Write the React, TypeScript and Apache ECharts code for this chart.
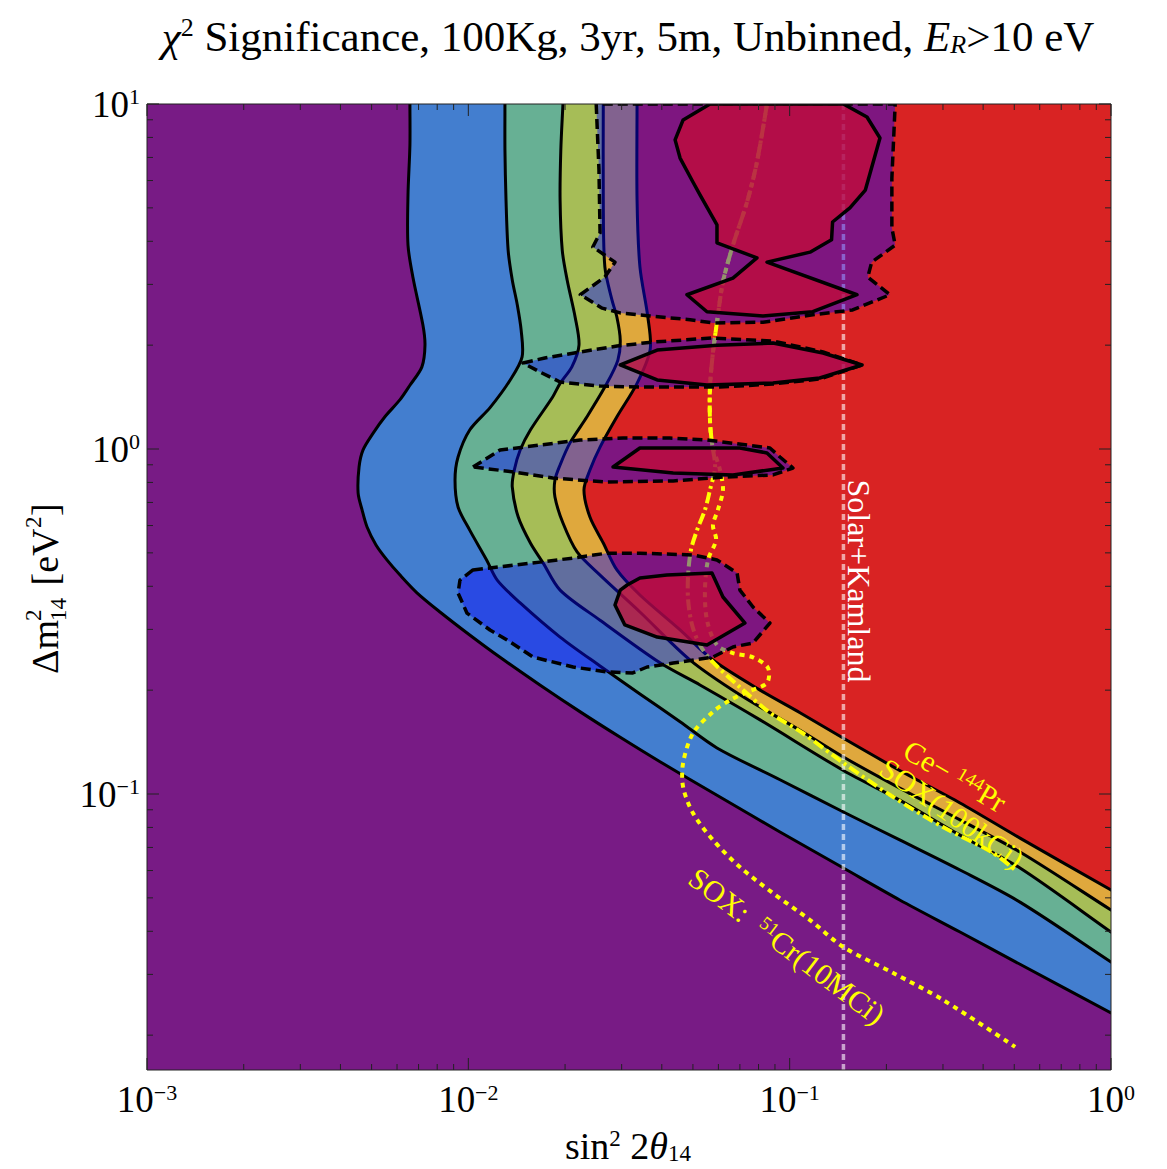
import React, { useEffect, useRef } from 'react';
import * as echarts from 'echarts';

const SERIF = 'Liberation Serif, Times New Roman, serif';

// axis ranges (sin^2 2θ14, Δm^2_14 [eV^2])
const X_RANGE = [0.001, 1];
const Y_RANGE = [Math.pow(10, -1.8), 10];
const xTickExponents = [-3, -2, -1, 0];
const yTickExponents = [-1, 0, 1];
const minorMultipliers = [2, 3, 4, 5, 6, 7, 8, 9];

const backgroundColor = '#781b85';
const bandColors = ['#437ecf', '#67b094', '#a6bd57', '#dfa83d', '#d92323'];

// significance contour boundaries [sin^2 2θ, Δm^2]
const contour1 = [[0.00658,10],[0.00658,7.61],[0.00649,5.45],[0.00649,3.90],[0.00673,3.13],[0.00722,2.29],[0.00733,2.00],[0.00717,1.73],[0.00658,1.53],[0.00613,1.39],[0.0055,1.24],[0.00505,1.11],[0.0047,0.993],[0.00457,0.887],[0.00454,0.745],[0.00467,0.666],[0.00484,0.594],[0.00516,0.527],[0.00558,0.477],[0.00613,0.431],[0.00692,0.383],[0.00816,0.337],[0.0101,0.289],[0.01255,0.249],[0.0167,0.207],[0.0223,0.173],[0.0297,0.146],[0.0395,0.124],[0.0607,0.098],[0.0933,0.0776],[0.147,0.061],[0.22,0.0493],[0.339,0.0398],[0.521,0.0321],[1,0.0232]];
const contour2 = [[0.013,10],[0.013,7.36],[0.0131,5.27],[0.0133,3.77],[0.0137,3.09],[0.0142,2.62],[0.0146,2.21],[0.0147,1.85],[0.0135,1.585],[0.0117,1.32],[0.0101,1.135],[0.00929,0.948],[0.00909,0.813],[0.00929,0.679],[0.0101,0.582],[0.0114,0.477],[0.0123,0.417],[0.0145,0.358],[0.0193,0.285],[0.0257,0.235],[0.0342,0.195],[0.0456,0.162],[0.0594,0.136],[0.0933,0.11],[0.147,0.0887],[0.22,0.0736],[0.339,0.0602],[0.521,0.0486],[1,0.0326]];
const contour3 = [[0.0197,10],[0.0194,7.36],[0.0193,5.27],[0.0196,3.77],[0.0203,3.09],[0.0215,2.41],[0.0221,2.0],[0.021,1.73],[0.0193,1.55],[0.0183,1.415],[0.0156,1.135],[0.0145,0.993],[0.0139,0.869],[0.0137,0.776],[0.0143,0.635],[0.0156,0.534],[0.0171,0.467],[0.0193,0.39],[0.0257,0.319],[0.0395,0.24],[0.0526,0.207],[0.0809,0.164],[0.147,0.117],[0.22,0.096],[0.339,0.076],[0.521,0.061],[1,0.0398]];
const contour4 = [[0.0263,10],[0.0263,5.27],[0.0266,3.37],[0.028,2.70],[0.029,2.41],[0.0297,2.07],[0.0292,1.81],[0.027,1.55],[0.0234,1.24],[0.0207,1.04],[0.0193,0.899],[0.0186,0.813],[0.0186,0.726],[0.0197,0.61],[0.0218,0.503],[0.0257,0.431],[0.0342,0.337],[0.049,0.2445],[0.07,0.194],[0.1077,0.153],[0.147,0.128],[0.22,0.104],[0.339,0.0841],[0.521,0.0679],[1,0.0461]];
const contour5 = [[0.0335,10],[0.0335,5.27],[0.0342,3.37],[0.0362,2.41],[0.0368,1.94],[0.0335,1.55],[0.029,1.24],[0.0257,1.013],[0.0239,0.869],[0.0229,0.761],[0.0239,0.635],[0.0263,0.534],[0.029,0.446],[0.0342,0.3775],[0.0456,0.299],[0.0577,0.2445],[0.0809,0.2],[0.1077,0.172],[0.147,0.145],[0.22,0.117],[0.339,0.0942],[0.521,0.0745],[1,0.0527]];

// dashed (translucent) regions
const regionA = [[0.025,10],[0.0255,6.44],[0.0257,4.23],[0.0244,3.85],[0.0286,3.48],[0.0266,3.15],[0.0223,2.80],[0.0261,2.56],[0.0297,2.48],[0.0368,2.43],[0.049,2.37],[0.0577,2.32],[0.0826,2.33],[0.118,2.45],[0.157,2.53],[0.205,2.80],[0.175,3.15],[0.18,3.48],[0.213,3.90],[0.208,4.37],[0.208,6.10],[0.213,10]];
const regionB = [[0.0148,1.775],[0.0173,1.836],[0.0223,1.911],[0.029,1.988],[0.0376,2.042],[0.0577,2.098],[0.0887,2.056],[0.127,1.911],[0.168,1.752],[0.124,1.596],[0.0887,1.543],[0.0607,1.512],[0.0342,1.512],[0.0257,1.522],[0.0193,1.564],[0.0167,1.672]];
const regionC = [[0.01034,0.887],[0.01255,0.993],[0.0167,1.027],[0.0223,1.062],[0.0303,1.076],[0.0424,1.076],[0.0553,1.062],[0.0868,1.007],[0.0933,0.948],[0.1024,0.881],[0.0887,0.841],[0.062,0.829],[0.0434,0.808],[0.027,0.802],[0.0183,0.824],[0.0138,0.858]];
const regionD = [[0.01034,0.446],[0.00942,0.417],[0.00929,0.3825],[0.0099,0.3346],[0.01168,0.2988],[0.0132,0.2795],[0.0159,0.2494],[0.0212,0.2334],[0.027,0.2258],[0.0325,0.2243],[0.036,0.2334],[0.0434,0.2397],[0.0577,0.2494],[0.0666,0.2668],[0.0769,0.274],[0.0868,0.313],[0.0769,0.3483],[0.07,0.39],[0.0686,0.437],[0.0594,0.477],[0.05,0.493],[0.0342,0.499],[0.027,0.499],[0.0212,0.483],[0.0167,0.47],[0.01168,0.452]];

// solid (inner) islands
const islandA = [[0.0565,10],[0.0466,8.99],[0.044,7.87],[0.0456,6.97],[0.05,5.94],[0.0526,5.45],[0.0594,4.46],[0.0594,3.96],[0.0791,3.58],[0.0666,3.13],[0.0479,2.80],[0.0553,2.50],[0.0826,2.43],[0.118,2.50],[0.162,2.80],[0.085,3.48],[0.1157,3.72],[0.135,4.04],[0.136,4.55],[0.154,5.0],[0.172,5.63],[0.178,6.31],[0.191,7.97],[0.174,9.17],[0.147,10]];
const islandB = [[0.0297,1.752],[0.0387,1.936],[0.0594,2.0],[0.0887,2.028],[0.127,1.898],[0.168,1.752],[0.124,1.606],[0.0887,1.553],[0.0553,1.533],[0.0387,1.585]];
const islandC = [[0.0282,0.887],[0.0342,1.007],[0.07,1.007],[0.085,0.974],[0.0953,0.881],[0.0666,0.841],[0.0434,0.852]];
const islandD = [[0.0297,0.39],[0.0286,0.353],[0.0307,0.309],[0.0387,0.285],[0.0553,0.2703],[0.0726,0.313],[0.062,0.3724],[0.0573,0.437],[0.0415,0.431],[0.0342,0.423],[0.0312,0.4035]];

// SOX sensitivity curves
const ceLine = [[0.085,10],[0.0791,6.79],[0.0737,5.2],[0.0666,3.9],[0.062,3.05],[0.0594,2.33],[0.0577,1.9],[0.0565,1.51],[0.0565,1.21],[0.0573,1.04],[0.0586,0.887],[0.0565,0.761],[0.0545,0.666],[0.0515,0.582],[0.0493,0.51],[0.0483,0.431],[0.0483,0.365],[0.0497,0.309],[0.0526,0.27],[0.0577,0.241],[0.07,0.204],[0.0868,0.172],[0.11,0.15],[0.147,0.123],[0.21,0.098],[0.3,0.0802],[0.429,0.0675],[0.503,0.0602]];
const crLine = [[0.085,10],[0.0791,6.79],[0.0737,5.2],[0.0666,3.9],[0.062,3.05],[0.0594,2.33],[0.0577,1.9],[0.0565,1.51],[0.0565,1.21],[0.0573,1.04],[0.0607,0.869],[0.062,0.761],[0.0598,0.666],[0.0577,0.602],[0.059,0.545],[0.0557,0.477],[0.0545,0.39],[0.0553,0.319],[0.0594,0.27],[0.0666,0.256],[0.0769,0.249],[0.0856,0.232],[0.085,0.21],[0.0737,0.1975],[0.0652,0.187],[0.0577,0.173],[0.05,0.15],[0.0466,0.123],[0.0466,0.1048],[0.05,0.0881],[0.0577,0.0736],[0.07,0.0614],[0.0887,0.0516],[0.1157,0.0431],[0.147,0.036],[0.21,0.0303],[0.3,0.0253],[0.503,0.0185]];

const solarKamlandSin2 = 0.147;

const bandBoundaries = [contour1, contour2, contour3, contour4, contour5];
const overlayRegions = [regionA, regionB, regionC, regionD];
const islands = [islandA, islandB, islandC, islandD];
const soxLines = [ceLine, crLine];
const soxDash = [[11, 4, 3, 4], [5, 5]];

const lg = Math.log10;
const L = (p: number[]) => [lg(p[0]), lg(p[1])];
const XL = [lg(X_RANGE[0]), lg(X_RANGE[1])];
const YL = [lg(Y_RANGE[0]), lg(Y_RANGE[1])];
const ANCHOR = [-1.5, 0];

function extendedPx(api: any, pts: number[][]) {
  const px = pts.map((p) => api.coord(L(p)));
  const ext = (a: number[], b: number[], d: number) => {
    const dx = a[0] - b[0], dy = a[1] - b[1];
    const n = Math.hypot(dx, dy) || 1;
    return [a[0] + (dx / n) * d, a[1] + (dy / n) * d];
  };
  const head = ext(px[0], px[1], 40);
  const tail = ext(px[px.length - 1], px[px.length - 2], 40);
  return [head, ...px, tail];
}

const expText = (e: number) => (e < 0 ? '−' + -e : String(e));

function buildOption() {
  const base = { type: 'custom', silent: true, clip: true };
  const series: any[] = [
    {
      ...base,
      data: bandBoundaries.map(() => ANCHOR),
      renderItem: (params: any, api: any) => {
        const pts = extendedPx(api, bandBoundaries[params.dataIndex]);
        const head = pts[0], tail = pts[pts.length - 1];
        const tr = api.coord([XL[1], YL[1]]);
        const far = 200;
        const poly = [[head[0], tr[1] - far], ...pts, [tr[0] + far, tail[1]], [tr[0] + far, tr[1] - far]];
        return { type: 'polygon', shape: { points: poly, smooth: 0.3 }, style: { fill: bandColors[params.dataIndex] } };
      },
    },
    {
      ...base,
      data: bandBoundaries.map(() => ANCHOR),
      renderItem: (params: any, api: any) => ({
        type: 'polyline',
        shape: { points: extendedPx(api, bandBoundaries[params.dataIndex]), smooth: 0.3 },
        style: { fill: 'none', stroke: '#000', lineWidth: 3 },
      }),
    },
    {
      ...base,
      data: [ANCHOR],
      renderItem: (params: any, api: any) => {
        const a = api.coord([lg(solarKamlandSin2), YL[0]]);
        const b = api.coord([lg(solarKamlandSin2), YL[1]]);
        return {
          type: 'line',
          shape: { x1: a[0], y1: a[1], x2: b[0], y2: b[1] },
          style: { stroke: 'rgba(255,255,255,0.6)', lineWidth: 3.5, lineDash: [6, 4] },
        };
      },
    },
    {
      ...base,
      data: soxLines.map(() => ANCHOR),
      renderItem: (params: any, api: any) => ({
        type: 'polyline',
        shape: { points: soxLines[params.dataIndex].map((p) => api.coord(L(p))), smooth: 0.3 },
        style: { fill: 'none', stroke: '#ffff00', lineWidth: 4, lineDash: soxDash[params.dataIndex] },
      }),
    },
    {
      ...base,
      data: overlayRegions.map(() => ANCHOR),
      renderItem: (params: any, api: any) => ({
        type: 'polygon',
        shape: { points: overlayRegions[params.dataIndex].map((p) => api.coord(L(p))) },
        style: { fill: 'rgba(8,8,252,0.43)', stroke: '#000', lineWidth: 3.5, lineDash: [10, 5], lineJoin: 'round' },
      }),
    },
    {
      ...base,
      data: islands.map(() => ANCHOR),
      renderItem: (params: any, api: any) => ({
        type: 'polygon',
        shape: { points: islands[params.dataIndex].map((p) => api.coord(L(p))) },
        style: { fill: 'rgba(203,10,49,0.7)', stroke: '#000', lineWidth: 3.5, lineJoin: 'round' },
      }),
    },
    {
      type: 'custom',
      silent: true,
      clip: false,
      data: [ANCHOR],
      renderItem: (params: any, api: any) => {
        const children: any[] = [];
        const tl = api.coord([XL[0], YL[1]]);
        const br = api.coord([XL[1], YL[0]]);
        const tickStyle = { stroke: '#222', lineWidth: 1 };
        const xTicks: [number, number][] = [];
        const yTicks: [number, number][] = [];
        for (let d = Math.floor(XL[0]); d <= Math.ceil(XL[1]); d++) {
          if (d >= XL[0] && d <= XL[1]) xTicks.push([d, 12]);
          minorMultipliers.forEach((m) => {
            const v = d + lg(m);
            if (v > XL[0] && v < XL[1]) xTicks.push([v, 6]);
          });
        }
        for (let d = Math.floor(YL[0]); d <= Math.ceil(YL[1]); d++) {
          if (d >= YL[0] && d <= YL[1]) yTicks.push([d, 12]);
          minorMultipliers.forEach((m) => {
            const v = d + lg(m);
            if (v > YL[0] && v < YL[1]) yTicks.push([v, 6]);
          });
        }
        xTicks.forEach(([v, len]) => {
          const x = api.coord([v, YL[0]])[0];
          children.push({ type: 'line', shape: { x1: x, y1: br[1], x2: x, y2: br[1] - len }, style: tickStyle });
          children.push({ type: 'line', shape: { x1: x, y1: tl[1], x2: x, y2: tl[1] + len }, style: tickStyle });
        });
        yTicks.forEach(([v, len]) => {
          const y = api.coord([XL[0], v])[1];
          children.push({ type: 'line', shape: { x1: tl[0], y1: y, x2: tl[0] + len, y2: y }, style: tickStyle });
          children.push({ type: 'line', shape: { x1: br[0], y1: y, x2: br[0] - len, y2: y }, style: tickStyle });
        });
        children.push({
          type: 'rect',
          shape: { x: tl[0], y: tl[1], width: br[0] - tl[0], height: br[1] - tl[1] },
          style: { fill: 'none', stroke: '#222', lineWidth: 1 },
        });
        const rich = {
          b: { fontSize: 37, fontFamily: SERIF, fill: '#000', verticalAlign: 'middle' },
          s: { fontSize: 22, fontFamily: SERIF, fill: '#000', lineHeight: 18, verticalAlign: 'top' },
        };
        xTickExponents.forEach((e) => {
          const x = api.coord([e, YL[0]])[0];
          children.push({
            type: 'text',
            x,
            y: br[1] + 11,
            style: { text: `{b|10}{s|${expText(e)}}`, rich, align: 'center', verticalAlign: 'top', font: `37px ${SERIF}` },
          });
        });
        yTickExponents.forEach((e) => {
          const y = api.coord([XL[0], e])[1];
          children.push({
            type: 'text',
            x: tl[0] - 7,
            y,
            style: { text: `{b|10}{s|${expText(e)}}`, rich, align: 'right', verticalAlign: 'middle', font: `37px ${SERIF}` },
          });
        });
        return { type: 'group', children };
      },
    },
  ];

  const titleRich = {
    t: { fontSize: 43, fontFamily: SERIF, fill: '#000', verticalAlign: 'middle' },
    ci: { fontSize: 43, fontFamily: SERIF, fontStyle: 'italic', fill: '#000', verticalAlign: 'middle' },
    sp: { fontSize: 26, fontFamily: SERIF, fill: '#000', lineHeight: 20, verticalAlign: 'top' },
    sb: { fontSize: 26, fontFamily: SERIF, fontStyle: 'italic', fill: '#000', lineHeight: 14, verticalAlign: 'bottom' },
  };
  const axisRich = {
    t: { fontSize: 38, fontFamily: SERIF, fill: '#000', verticalAlign: 'middle' },
    it: { fontSize: 38, fontFamily: SERIF, fontStyle: 'italic', fill: '#000', verticalAlign: 'middle' },
    sp: { fontSize: 23, fontFamily: SERIF, fill: '#000', lineHeight: 18, verticalAlign: 'top' },
    sb: { fontSize: 23, fontFamily: SERIF, fill: '#000', lineHeight: 12, verticalAlign: 'bottom' },
  };
  const yellowRich = {
    t: { fontSize: 30, fontFamily: SERIF, fill: '#ffff00', verticalAlign: 'middle' },
    sp: { fontSize: 19, fontFamily: SERIF, fill: '#ffff00', lineHeight: 15, verticalAlign: 'top' },
  };

  const graphic: any[] = [
    {
      type: 'text', x: 628, y: 36, z: 100,
      style: {
        text: '{ci|χ}{sp|2}{t| Significance, 100Kg, 3yr, 5m, Unbinned, }{ci|E}{sb|R}{t|>10 eV}',
        rich: titleRich, align: 'center', verticalAlign: 'middle', font: `43px ${SERIF}`,
      },
    },
    {
      type: 'text', x: 628, y: 1146, z: 100,
      style: {
        text: '{t|sin}{sp|2}{t| 2}{it|θ}{sb|14}',
        rich: axisRich, align: 'center', verticalAlign: 'middle', font: `38px ${SERIF}`,
      },
    },
    {
      type: 'group', x: 45, y: 590, rotation: Math.PI / 2, z: 100,
      children: [
        { type: 'text', x: -84, y: 0, style: { text: 'Δm', font: `38px ${SERIF}`, fill: '#000', align: 'left', verticalAlign: 'middle' } },
        { type: 'text', x: -31, y: -12, style: { text: '2', font: `23px ${SERIF}`, fill: '#000', align: 'left', verticalAlign: 'middle' } },
        { type: 'text', x: -31, y: 13, style: { text: '14', font: `23px ${SERIF}`, fill: '#000', align: 'left', verticalAlign: 'middle' } },
        { type: 'text', x: -5, y: 0, style: { text: ' [eV', font: `38px ${SERIF}`, fill: '#000', align: 'left', verticalAlign: 'middle' } },
        { type: 'text', x: 62, y: -12, style: { text: '2', font: `23px ${SERIF}`, fill: '#000', align: 'left', verticalAlign: 'middle' } },
        { type: 'text', x: 74, y: 0, style: { text: ']', font: `38px ${SERIF}`, fill: '#000', align: 'left', verticalAlign: 'middle' } },
      ],
    },
    {
      type: 'text', x: 859, y: 581, rotation: -Math.PI / 2, z: 100,
      style: { text: 'Solar+Kamland', font: `32px ${SERIF}`, fill: '#ffffff', align: 'center', verticalAlign: 'middle' },
    },
    {
      type: 'text', x: 955, y: 776, rotation: -0.53, z: 100,
      style: { text: '{t|Ce− }{sp|144}{t|Pr}', rich: yellowRich, align: 'center', verticalAlign: 'middle', font: `30px ${SERIF}` },
    },
    {
      type: 'text', x: 952, y: 813, rotation: -0.61, z: 100,
      style: { text: 'SOX(100kCi)', font: `30px ${SERIF}`, fill: '#ffff00', align: 'center', verticalAlign: 'middle' },
    },
    {
      type: 'text', x: 787, y: 946, rotation: -0.65, z: 100,
      style: { text: '{t|SOX:  }{sp|51}{t|Cr(10MCi)}', rich: yellowRich, align: 'center', verticalAlign: 'middle', font: `30px ${SERIF}` },
    },
  ];

  return {
    animation: false,
    backgroundColor: '#ffffff',
    grid: { left: 147, top: 104, right: 56, bottom: 99, show: true, backgroundColor, borderWidth: 0 },
    xAxis: { type: 'value', min: XL[0], max: XL[1], show: false },
    yAxis: { type: 'value', min: YL[0], max: YL[1], show: false },
    series,
    graphic,
  };
}

export default function App() {
  const ref = useRef<HTMLDivElement>(null);
  useEffect(() => {
    const chart = echarts.init(ref.current as HTMLDivElement, null, { renderer: 'svg' });
    chart.setOption(buildOption() as any);
    return () => chart.dispose();
  }, []);
  return (
    <div
      ref={ref}
      style={{ position: 'absolute', left: 0, top: 0, width: 1167, height: 1169, background: '#fff' }}
    />
  );
}
